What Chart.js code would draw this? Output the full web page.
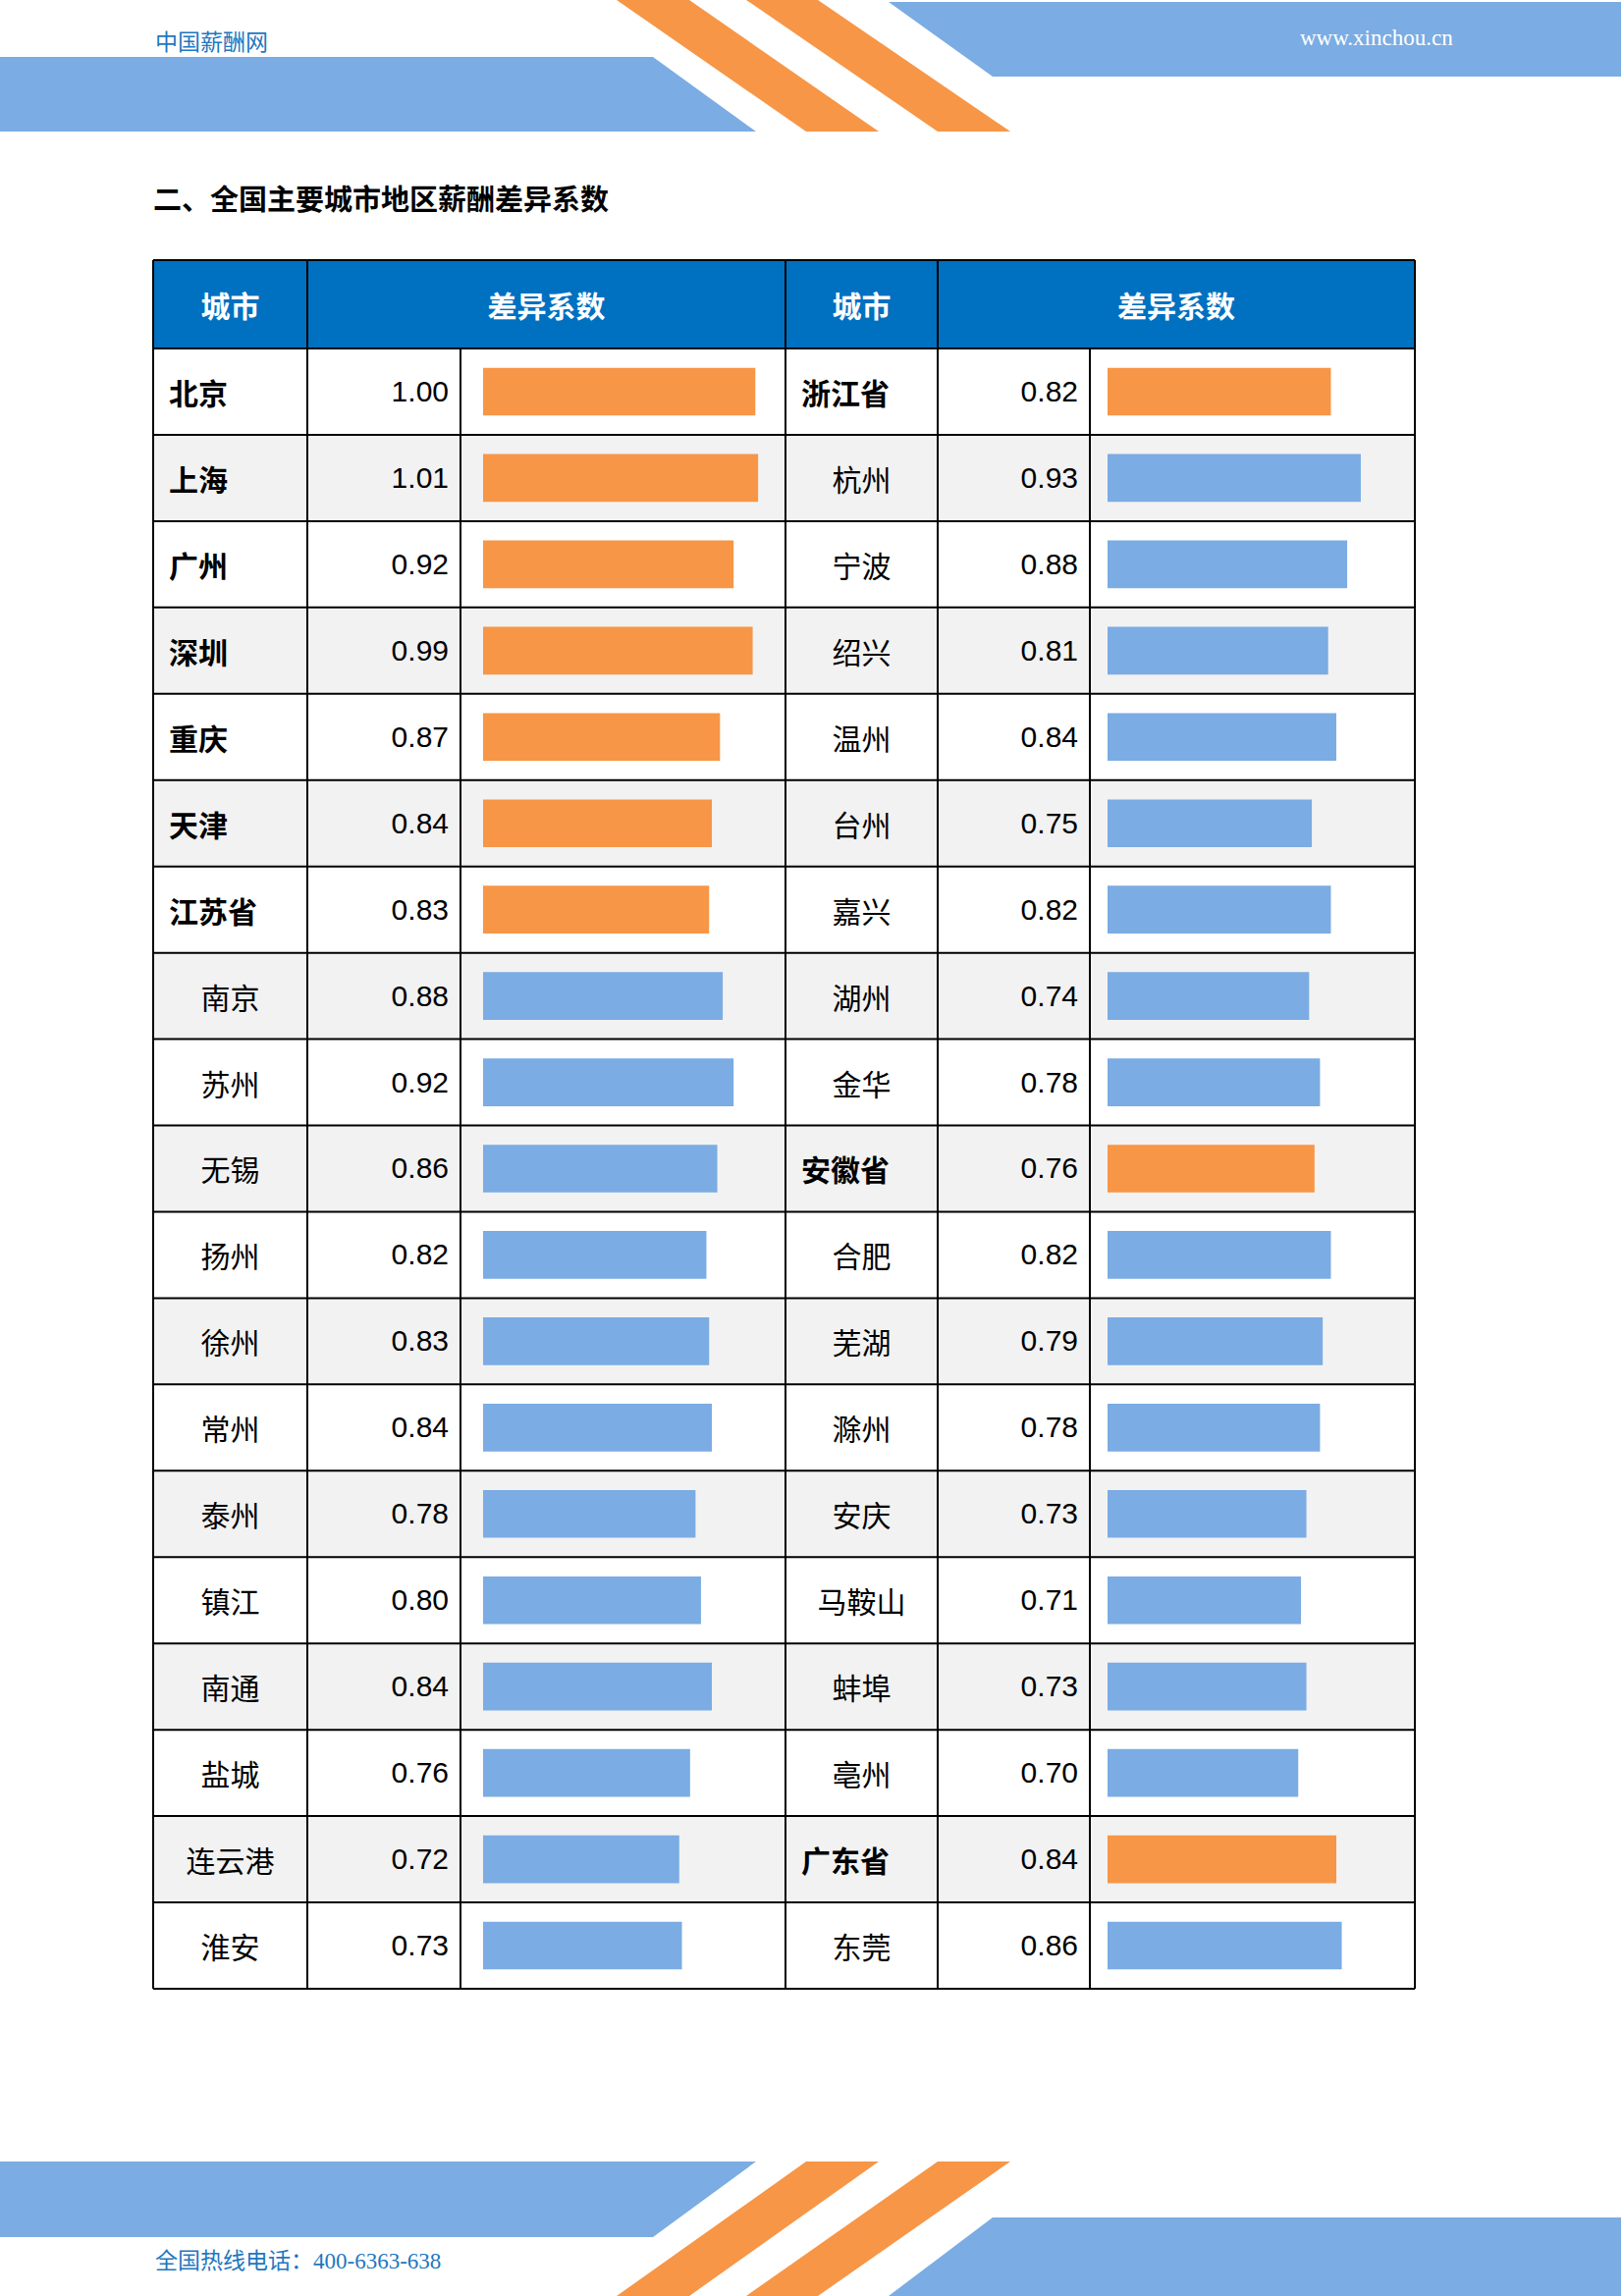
<!DOCTYPE html>
<html><head><meta charset="utf-8">
<script src="https://cdn.jsdelivr.net/npm/chart.js@4.4.0/dist/chart.umd.min.js"></script>
<style>
body{margin:0;width:1654px;height:2339px;background:#fff;position:relative;overflow:hidden;font-family:"Noto Sans CJK SC",sans-serif}
.abs{position:absolute}
.cell{position:absolute;box-sizing:border-box;display:flex;align-items:center}
</style></head><body>
<svg class="abs" style="left:0;top:0" width="1654" height="2339">
<polygon points="0,58 665,58 770,134 0,134" fill="#7BACE3"/>
<polygon points="628,0 702,0 895,134 821,134" fill="#F79646"/>
<polygon points="760,0 833,0 1029,134 955,134" fill="#F79646"/>
<polygon points="905,2 1651,2 1651,78 1011,78" fill="#7BACE3"/>
<polygon points="0,2202 770,2202 665,2279 0,2279" fill="#7BACE3"/>
<polygon points="821,2202 895,2202 702,2339 628,2339" fill="#F79646"/>
<polygon points="955,2202 1029,2202 833,2339 760,2339" fill="#F79646"/>
<polygon points="1011,2259 1651,2259 1651,2339 905,2339" fill="#7BACE3"/>
</svg>
<div class="abs" style="left:158px;top:24px;font-size:23px;color:#1F77C0;font-family:'Noto Sans CJK SC'">中国薪酬网</div>
<div class="abs" style="left:1324px;top:26px;font-size:23px;color:#fff;font-family:'Liberation Serif'">www.xinchou.cn</div>
<div class="abs" style="left:158px;top:2284px;font-size:23px;color:#1F77C0;font-family:'Noto Sans CJK SC'">全国热线电话：<span style="font-family:'Liberation Serif'">400-6363-638</span></div>
<div class="abs" style="left:156px;top:180px;font-size:29px;font-weight:bold;color:#000">二、全国主要城市地区薪酬差异系数</div>
<div id="tbl"></div>
<canvas id="c1" class="abs"></canvas>
<canvas id="c2" class="abs"></canvas>
<script>
const leftCities=["北京","上海","广州","深圳","重庆","天津","江苏省","南京","苏州","无锡","扬州","徐州","常州","泰州","镇江","南通","盐城","连云港","淮安"];
const leftValues=[1.00,1.01,0.92,0.99,0.87,0.84,0.83,0.88,0.92,0.86,0.82,0.83,0.84,0.78,0.80,0.84,0.76,0.72,0.73];
const leftMajor=[1,1,1,1,1,1,1,0,0,0,0,0,0,0,0,0,0,0,0];
const rightCities=["浙江省","杭州","宁波","绍兴","温州","台州","嘉兴","湖州","金华","安徽省","合肥","芜湖","滁州","安庆","马鞍山","蚌埠","亳州","广东省","东莞"];
const rightValues=[0.82,0.93,0.88,0.81,0.84,0.75,0.82,0.74,0.78,0.76,0.82,0.79,0.78,0.73,0.71,0.73,0.70,0.84,0.86];
const rightMajor=[1,0,0,0,0,0,0,0,0,1,0,0,0,0,0,0,0,1,0];
const headers=["城市","差异系数"];

const top0=265, headH=90, rowH=(2026-355)/19;
const cols=[156,313,469,800,955,1110,1441];
const tbl=document.getElementById('tbl');
function cell(x,y,w,h,html,style){const d=document.createElement('div');d.className='cell';d.style.cssText+=`left:${x}px;top:${y}px;width:${w}px;height:${h}px;`+style;d.innerHTML=html;tbl.appendChild(d);}
// header
cell(cols[0],top0,cols[1]-cols[0],headH,headers[0],'background:#0070C0;color:#fff;font-weight:bold;font-size:30px;justify-content:center;');
cell(cols[1],top0,cols[3]-cols[1],headH,headers[1],'background:#0070C0;color:#fff;font-weight:bold;font-size:30px;justify-content:center;');
cell(cols[3],top0,cols[4]-cols[3],headH,headers[0],'background:#0070C0;color:#fff;font-weight:bold;font-size:30px;justify-content:center;');
cell(cols[4],top0,cols[6]-cols[4],headH,headers[1],'background:#0070C0;color:#fff;font-weight:bold;font-size:30px;justify-content:center;');
for(let i=0;i<19;i++){
  const y=top0+headH+i*rowH, bg=i%2?'#F2F2F2':'#fff';
  [[leftCities,leftValues,leftMajor,0],[rightCities,rightValues,rightMajor,3]].forEach(([c,v,m,o])=>{
    cell(cols[o],y,cols[o+1]-cols[o],rowH,c[i],`background:${bg};font-size:30px;color:#000;`+(m[i]?'font-weight:bold;padding-left:16px;':'justify-content:center;'));
    cell(cols[o+1],y,cols[o+2]-cols[o+1],rowH,v[i].toFixed(2),`background:${bg};font-size:30px;color:#000;justify-content:flex-end;padding-right:12px;font-family:"Liberation Sans";`);
    cell(cols[o+2],y,cols[o+3]-cols[o+2],rowH,'',`background:${bg};`);
  });
}
// grid lines
const sv=document.createElementNS('http://www.w3.org/2000/svg','svg');
sv.setAttribute('width',1654);sv.setAttribute('height',2339);sv.style.cssText='position:absolute;left:0;top:0;z-index:5;pointer-events:none';
let s='';
const bottom=top0+headH+19*rowH;
for(let i=0;i<=20;i++){const y=i==0?top0:top0+headH+(i-1)*rowH;s+=`<line x1="${cols[0]}" x2="${cols[6]}" y1="${y}" y2="${y}" stroke="#000" stroke-width="2"/>`;}
cols.forEach((x,k)=>{const y1=(k==2||k==5)?top0+headH:top0;s+=`<line x1="${x}" x2="${x}" y1="${y1}" y2="${bottom}" stroke="#000" stroke-width="2"/>`;});
sv.innerHTML=s;document.body.appendChild(sv);

function mk(id,x,labels,values,major,padL,padR){
  const cv=document.getElementById(id);
  const w=cols[x+1]-cols[x], h=bottom-(top0+headH);
  cv.style.left=cols[x]+'px';cv.style.top=(top0+headH)+'px';cv.style.width=w+'px';cv.style.height=h+'px';cv.style.zIndex=3;
  cv.width=w;cv.height=h;
  new Chart(cv,{type:'bar',data:{labels,datasets:[{data:values,backgroundColor:major.map(m=>m?'#F79646':'#7BACE3'),barThickness:48}]},
    options:{indexAxis:'y',responsive:false,animation:false,devicePixelRatio:1,
      layout:{padding:{left:padL,right:padR,top:0,bottom:0}},
      plugins:{legend:{display:false},tooltip:{enabled:false}},
      scales:{x:{display:false,min:0,max:1.1},y:{display:false}}}});
}
mk('c1',2,leftCities,leftValues,leftMajor,23,3.3);
mk('c2',5,rightCities,rightValues,rightMajor,18,8.3);
</script>
</body></html>
